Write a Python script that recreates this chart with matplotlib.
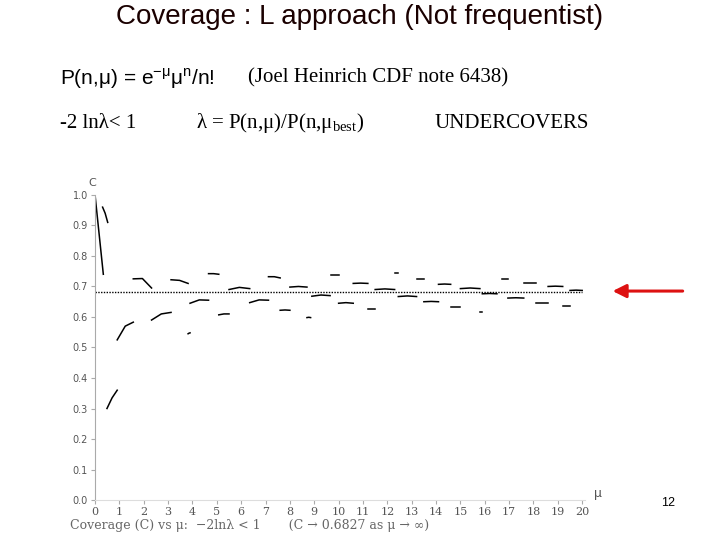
import matplotlib
matplotlib.use("Agg")
import matplotlib.pyplot as plt

# Coverage curve segments: (mu_start, mu_end) and (C_start, C_mid, C_end)
seg_x = [(0.0,0.34),(0.31,0.52),(0.49,0.91),(0.91,1.57),(1.57,2.32),(2.32,3.12),(3.12,3.82),
         (3.82,3.9),(3.9,4.66),(4.66,5.08),(5.08,5.5),(5.5,6.35),(6.35,7.12),(7.12,7.6),
         (7.6,8.0),(8.0,8.7),(8.7,8.85),(8.9,9.65),(9.7,10.0),(10.0,10.6),(10.6,11.2),
         (11.2,11.5),(11.5,12.3),(12.3,12.45),(12.45,13.2),(13.2,13.5),(13.5,14.1),(14.1,14.6),
         (14.6,15.0),(15.0,15.8),(15.8,15.88),(15.9,16.5),(16.7,16.95),(16.95,17.6),(17.6,18.1),
         (18.1,18.6),(18.6,19.2),(19.2,19.5),(19.5,20.0)]
seg_y = [(1.0,0.87,0.74),(0.96,0.94,0.91),(0.30,0.335,0.36),(0.525,0.57,0.583),(0.725,0.726,0.695),
         (0.59,0.61,0.615),(0.722,0.72,0.71),(0.545,0.547,0.548),(0.645,0.656,0.655),(0.742,0.742,0.74),
         (0.607,0.61,0.61),(0.69,0.697,0.693),(0.647,0.656,0.655),(0.732,0.732,0.728),(0.622,0.623,0.622),
         (0.698,0.700,0.698),(0.598,0.599,0.598),(0.668,0.672,0.67),(0.736,0.736,0.736),(0.645,0.647,0.645),
         (0.71,0.711,0.71),(0.625,0.625,0.625),(0.690,0.692,0.690),(0.745,0.745,0.745),(0.667,0.669,0.667),
         (0.725,0.725,0.725),(0.65,0.651,0.65),(0.707,0.708,0.707),(0.634,0.634,0.634),(0.693,0.695,0.693),
         (0.615,0.615,0.615),(0.676,0.677,0.676),(0.725,0.725,0.725),(0.662,0.663,0.662),(0.713,0.713,0.713),
         (0.646,0.646,0.646),(0.700,0.701,0.700),(0.637,0.637,0.637),(0.687,0.688,0.687)]
c_limit = 0.6827
xticks = list(range(0, 21))
yticks = [i/10 for i in range(11)]

fig = plt.figure(figsize=(7.2, 5.4), dpi=100)
ax = fig.add_axes([0.132, 0.074, 0.68, 0.565])
for (x0, x1), (y0, ym, y1) in zip(seg_x, seg_y):
    ax.plot([x0, (x0+x1)/2, x1], [y0, ym, y1], color="black", lw=1.1)
ax.plot([0, 20], [c_limit, c_limit], color="black", lw=1, ls=(0, (1, 1)))
ax.set_xlim(0, 20.1)
ax.set_ylim(0, 1.0)
ax.set_xticks(xticks)
ax.set_xticklabels([str(t) for t in xticks], fontsize=8, color="#555555", family="DejaVu Serif")
ax.set_yticks(yticks)
ax.set_yticklabels([f"{t:.1f}" for t in yticks], fontsize=7, color="#555555")
ax.tick_params(length=3, color="#aaaaaa", pad=2)
for s in ["top", "right"]:
    ax.spines[s].set_visible(False)
ax.spines["left"].set_color("#aaaaaa")
ax.spines["bottom"].set_color("#dddddd")
ax.text(-0.1, 1.03, "C", fontsize=8, color="#555555", transform=ax.transData, ha="center")
ax.text(20.5, 0.0, "μ", fontsize=9, color="#555555", va="bottom")

fig.text(0.097, 0.027, "Coverage (C) vs μ:  −2lnλ < 1       (C → 0.6827 as μ → ∞)",
         fontsize=9, color="#666666", family="DejaVu Serif", va="center")
fig.text(0.5, 0.968, "Coverage : L approach (Not frequentist)", fontsize=20,
         family="Liberation Sans", color="#1a0000", ha="center", va="center")
fig.text(0.083, 0.855, "P(n,μ) = e$^{\\mathregular{-μ}}$μ$^{\\mathregular{n}}$/n!", fontsize=15,
         family="Liberation Sans", va="center")
fig.text(0.345, 0.855, "(Joel Heinrich CDF note 6438)", fontsize=15, family="Liberation Serif", va="center")
fig.text(0.083, 0.772, "-2 lnλ< 1", fontsize=15, family="Liberation Serif", va="center")
fig.text(0.272, 0.772, "λ = P(n,μ)/P(n,μ$_{\\mathregular{best}}$)", fontsize=15,
         family="Liberation Serif", va="center")
fig.text(0.603, 0.772, "UNDERCOVERS", fontsize=15, family="Liberation Serif", va="center")
fig.text(0.928, 0.068, "12", fontsize=9, family="Liberation Sans", ha="center", va="center")
fig.patches.append(matplotlib.patches.FancyArrowPatch((0.952, 0.461), (0.847, 0.461),
    transform=fig.transFigure, arrowstyle="-|>,head_length=8,head_width=4", color="#dd1111", lw=2.2))
fig.savefig("out.png", dpi=100)
